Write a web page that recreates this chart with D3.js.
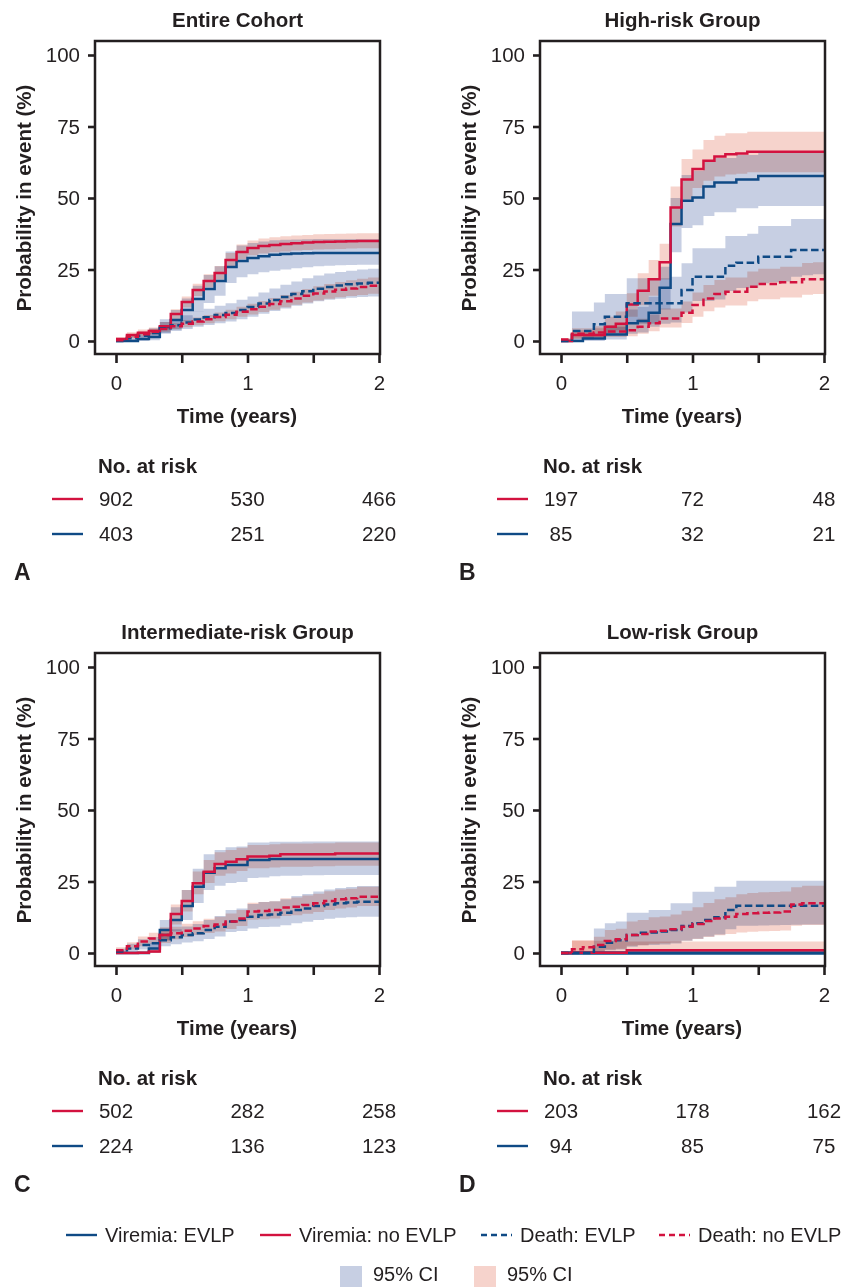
<!DOCTYPE html>
<html>
<head>
<meta charset="utf-8">
<script src="https://cdn.jsdelivr.net/npm/d3@7"></script>
<style>
  html, body { margin: 0; padding: 0; background: #fff; }
  svg { display: block; font-family: "Liberation Sans", Arial, Helvetica, sans-serif; }
</style>
</head>
<body>
<svg id="chart" width="850" height="1287"></svg>
<script>
// ---- data: cumulative incidence (%) by month since transplant ----
const months = [0, 1, 2, 3, 4, 5, 6, 7, 8, 9, 10, 11, 12, 13, 14, 15, 16, 17, 18, 19, 20, 21, 22, 23, 24];

const panelTitles = ["Entire Cohort", "High-risk Group", "Intermediate-risk Group", "Low-risk Group"];
const panelLetters = ["A", "B", "C", "D"];
const yTicks = [0, 25, 50, 75, 100];
const xTicks = [0, 0.5, 1, 1.5, 2];
const xTickLabels = ["0", "", "1", "", "2"];
const riskTimes = [0, 1, 2];

// Entire cohort
const A_virEvlp     = [0, 0, 0.7, 1.4, 4.9, 7.3, 10.8, 14.7, 18.2, 21, 25.9, 28, 29, 29.6, 30.2, 30.4, 30.6, 30.7, 30.8, 30.8, 30.8, 30.8, 30.8, 30.8, 30.8];
const A_virEvlpLo   = [0, 0, 0, 0.3, 2.5, 4, 6.8, 10.2, 13.3, 15.8, 20.3, 22.3, 23.3, 24, 24.6, 25, 25.4, 25.8, 26.1, 26.3, 26.5, 26.6, 26.7, 26.7, 26.7];
const A_virEvlpHi   = [0.4, 0.6, 1.8, 3, 7.6, 10.8, 14.9, 19.3, 23.1, 26.1, 31.3, 33.4, 34.3, 34.8, 35.2, 35.4, 35.5, 35.6, 35.7, 35.7, 35.7, 35.7, 35.7, 35.7, 35.7];
const A_virNo       = [0.7, 2.1, 2.9, 3.5, 5.2, 9.4, 13.6, 17.8, 21, 23.8, 28.3, 31.1, 32.5, 33.2, 33.6, 33.9, 34.2, 34.4, 34.6, 34.7, 34.8, 34.9, 35, 35, 35];
const A_virNoLo     = [0.1, 1.2, 1.9, 2.4, 3.9, 7.8, 11.7, 15.7, 18.8, 21.5, 25.9, 28.6, 30, 30.6, 31, 31.3, 31.6, 31.8, 32, 32.1, 32.2, 32.3, 32.4, 32.4, 32.4];
const A_virNoHi     = [1.3, 3.1, 4, 4.7, 6.6, 11.1, 15.6, 20, 23.3, 26.2, 30.8, 33.7, 35.1, 35.8, 36.3, 36.6, 36.9, 37.1, 37.3, 37.4, 37.5, 37.6, 37.7, 37.7, 37.7];
const A_deathEvlp   = [0, 1, 1.8, 2.8, 4.5, 5.5, 6.5, 7.5, 8.3, 9.1, 9.8, 10.8, 11.9, 13.1, 14.3, 15.4, 16.4, 17.4, 18.3, 18.9, 19.4, 19.8, 20.1, 20.4, 20.6];
const A_deathEvlpLo = [0, 0.3, 0.8, 1.5, 2.8, 3.5, 4.2, 5, 5.6, 6.2, 6.8, 7.6, 8.5, 9.5, 10.5, 11.4, 12.3, 13.1, 13.9, 14.4, 14.8, 15.1, 15.4, 15.6, 15.8];
const A_deathEvlpHi = [0.5, 2, 3.2, 4.5, 6.6, 7.8, 9, 10.3, 11.3, 12.3, 13.2, 14.4, 15.6, 17, 18.4, 19.7, 20.8, 21.9, 22.9, 23.6, 24.1, 24.6, 25, 25.3, 25.5];
const A_deathNo     = [0.3, 1.5, 2.4, 3.2, 4.2, 5.2, 6, 6.8, 7.6, 8.4, 9.2, 10.2, 11.1, 12, 12.9, 13.9, 14.9, 15.8, 16.6, 17.3, 17.9, 18.4, 18.9, 19.3, 19.6];
const A_deathNoLo   = [0, 0.9, 1.6, 2.3, 3.2, 4.1, 4.8, 5.5, 6.2, 6.9, 7.6, 8.5, 9.3, 10.1, 10.9, 11.8, 12.7, 13.5, 14.2, 14.8, 15.3, 15.7, 16.1, 16.5, 16.8];
const A_deathNoHi   = [0.8, 2.2, 3.2, 4.2, 5.3, 6.4, 7.3, 8.2, 9.1, 10, 10.9, 12, 13, 14, 15, 16.1, 17.2, 18.2, 19.1, 19.9, 20.6, 21.2, 21.8, 22.2, 22.5];

// High-risk group
const B_virEvlp     = [0, 0, 0.9, 0.9, 2.3, 2.3, 6.2, 7, 9.9, 18.6, 40.9, 49, 50.2, 54, 55.4, 55.4, 56.5, 56.5, 57.7, 57.7, 57.7, 57.7, 57.7, 57.7, 57.7];
const B_virEvlpLo   = [0, 0, 0, 0, 0.5, 0.5, 2.5, 3, 5, 11, 31, 39.5, 40.5, 43.7, 45, 45, 46.4, 46.4, 47.2, 47.2, 47.2, 47.2, 47.2, 47.2, 47.2];
const B_virEvlpHi   = [0.5, 0.8, 2.5, 2.5, 5, 5, 11, 12, 15.5, 26, 50, 58, 59.5, 63, 64, 64, 65, 65, 66, 66, 66, 66, 66, 66, 66];
const B_virNo       = [0, 2.1, 2.1, 2.1, 5, 6, 12.8, 17.6, 21.6, 27.5, 46.7, 56.5, 60.1, 63, 64.5, 65.3, 65.6, 66.2, 66.2, 66.2, 66.2, 66.2, 66.2, 66.2, 66.2];
const B_virNoLo     = [0, 0.9, 0.9, 0.9, 2.7, 3.8, 8.5, 12.5, 15.8, 21.5, 40, 49.5, 53.5, 56, 57.5, 58.2, 58.5, 59, 59, 59, 59, 59, 59, 59, 59];
const B_virNoHi     = [0.8, 3.8, 3.8, 4.5, 8.5, 10.3, 16.7, 23.7, 28.3, 34, 54, 63.6, 67, 70.3, 71.8, 72.6, 72.6, 73.2, 73.2, 73.2, 73.2, 73.2, 73.2, 73.2, 73.2];
const B_deathEvlp   = [0, 3.5, 3.5, 5.9, 8.5, 8.5, 13.2, 13.2, 13.2, 13.2, 13.2, 17.8, 22.5, 22.5, 22.5, 26.3, 27.4, 27.4, 29.5, 29.5, 29.5, 31.8, 31.8, 31.8, 31.8];
const B_deathEvlpLo = [0, 0.5, 0.5, 1.5, 2.5, 2.5, 6, 6, 6, 6, 6.5, 10, 14, 14, 14.5, 17.5, 18.5, 18.5, 20.2, 20.5, 20.8, 22.5, 23, 23.3, 23.7];
const B_deathEvlpHi = [0, 10.3, 10.3, 13.5, 16.4, 16.4, 21.9, 21.9, 21.9, 21.9, 22.5, 27.2, 32.4, 32.4, 32.4, 36.7, 36.7, 37.5, 40.2, 40.2, 40.2, 42.7, 42.7, 42.7, 42.7];
const B_deathNo     = [0.5, 2.5, 2.5, 3, 3.3, 3.3, 3.8, 5, 6.2, 7.9, 7.9, 9.9, 12.6, 14.9, 16.4, 17.2, 17.2, 19, 19.9, 19.9, 20.5, 20.5, 21.6, 21.6, 21.6];
const B_deathNoLo   = [0, 0.8, 0.8, 1.2, 1.4, 1.4, 1.7, 2.5, 3.4, 4.7, 4.7, 6.3, 8.5, 10.4, 11.7, 12.4, 12.4, 13.9, 14.6, 14.6, 15.2, 15.2, 16.2, 16.4, 16.6];
const B_deathNoHi   = [1, 4.5, 4.5, 5.2, 5.6, 5.6, 6.3, 7.8, 9.3, 11.4, 11.4, 13.8, 17, 19.6, 21.3, 22.2, 22.2, 24.3, 25.3, 25.3, 26, 26, 27.3, 27.5, 27.7];

// Intermediate-risk group
const C_virEvlp     = [0, 0, 0, 1.6, 8, 11.5, 16.4, 23.2, 28.1, 29.6, 30.8, 30.8, 32.5, 32.5, 32.9, 32.9, 32.9, 32.9, 32.9, 32.9, 32.9, 32.9, 32.9, 32.9, 32.9];
const C_virEvlpLo   = [0, 0, 0, 0, 4.5, 7.5, 11.5, 17.5, 22, 23.5, 24.5, 24.8, 26.2, 26.4, 26.8, 27, 27, 27.2, 27.2, 27.3, 27.3, 27.3, 27.3, 27.3, 27.3];
const C_virEvlpHi   = [0.5, 0.5, 0.8, 3.5, 11.5, 16, 22, 29.5, 34.5, 36, 37, 37.2, 38.6, 38.6, 38.9, 38.9, 38.9, 39, 39, 39, 39, 39, 39, 39, 39];
const C_virNo       = [0, 0, 0.1, 0.5, 6.3, 13.6, 18.2, 24.4, 28.4, 31.1, 31.9, 32.8, 33.7, 33.7, 34, 34.5, 34.5, 34.5, 34.5, 34.5, 34.8, 34.8, 34.8, 34.8, 34.8];
const C_virNoLo     = [0, 0, 0, 0, 3.5, 10, 14.5, 20.5, 24.5, 27, 27.8, 28.7, 29.6, 29.6, 29.9, 30.2, 30.2, 30.2, 30.3, 30.3, 30.5, 30.5, 30.5, 30.5, 30.5];
const C_virNoHi     = [0.3, 0.3, 0.6, 1.5, 9, 17, 22, 28.5, 32.5, 35.2, 36, 36.8, 37.8, 37.8, 38, 38.3, 38.3, 38.3, 38.4, 38.4, 38.6, 38.6, 38.6, 38.6, 38.6];
const C_deathEvlp   = [0.5, 1.6, 2.8, 3.4, 4.5, 5.5, 6.3, 6.9, 8, 9.2, 11, 11.5, 12.7, 13.3, 13.5, 14.1, 15, 15.6, 16.4, 17, 17.4, 17.7, 17.9, 17.9, 17.9];
const C_deathEvlpLo = [0, 0.4, 1.2, 1.6, 2.4, 3.1, 3.7, 4.1, 4.9, 5.8, 7.3, 7.7, 8.6, 9.1, 9.2, 9.7, 10.4, 10.9, 11.5, 12, 12.3, 12.5, 12.7, 12.7, 12.7];
const C_deathEvlpHi = [1.5, 3.2, 4.8, 5.6, 7, 8.3, 9.3, 10.1, 11.5, 12.9, 15, 15.6, 17.1, 17.8, 18.1, 18.8, 19.9, 20.6, 21.5, 22.2, 22.7, 23.1, 23.4, 23.4, 23.4];
const C_deathNo     = [1, 2.4, 4, 5.1, 6.3, 6.9, 7.8, 8.6, 9.4, 10, 11, 12.1, 14.5, 14.7, 15, 15.9, 16.2, 16.8, 17.4, 18.2, 18.8, 19.1, 19.7, 19.7, 19.7];
const C_deathNoLo   = [0.2, 1.2, 2.4, 3.3, 4.3, 4.8, 5.6, 6.3, 7, 7.5, 8.4, 9.4, 11.6, 11.8, 12.1, 12.9, 13.2, 13.7, 14.3, 15, 15.6, 15.9, 16.4, 16.4, 16.4];
const C_deathNoHi   = [2, 3.8, 5.8, 7.1, 8.5, 9.2, 10.2, 11.1, 12, 12.7, 13.8, 15, 17.6, 17.8, 18.1, 19.1, 19.4, 20.1, 20.7, 21.6, 22.2, 22.5, 23.2, 23.2, 23.2];

// Low-risk group
const D_virEvlp     = [0, 0, 0, 0, 0, 0, 0, 0, 0, 0, 0, 0, 0, 0, 0, 0, 0, 0, 0, 0, 0, 0, 0, 0, 0];
const D_virEvlpLo   = [0, 0, 0, 0, 0, 0, 0, 0, 0, 0, 0, 0, 0, 0, 0, 0, 0, 0, 0, 0, 0, 0, 0, 0, 0];
const D_virEvlpHi   = [0, 0, 0, 0, 0, 0, 0, 0, 0, 0, 0, 0, 0, 0, 0, 0, 0, 0, 0, 0, 0, 0, 0, 0, 0];
const D_virNo       = [0, 0.1, 0.1, 0.1, 0.1, 0.1, 1, 1, 1, 1, 1, 1, 1, 1, 1, 1, 1, 1, 1, 1, 1, 1, 1, 1, 1];
const D_virNoLo     = [0, 0, 0, 0, 0, 0, 0, 0, 0, 0, 0, 0, 0, 0, 0, 0, 0, 0, 0, 0, 0, 0, 0, 0, 0];
const D_virNoHi     = [0, 4.3, 4.3, 4.3, 4.3, 4.3, 4, 4, 4, 4, 4, 4, 4, 4, 4, 4, 4, 4, 4, 4, 4, 4, 4, 4, 4];
const D_deathEvlp   = [0, 0, 0, 2.2, 3.6, 4.5, 6.3, 7.1, 7.2, 7.5, 8, 9.4, 10.4, 11.5, 12.5, 15, 16.5, 16.5, 16.5, 16.5, 16.5, 16.5, 16.5, 16.5, 16.5];
const D_deathEvlpLo = [0, 0, 0, 0.5, 1, 1.2, 2.2, 2.7, 2.8, 3, 3.3, 4.3, 5, 5.8, 6.5, 8.3, 9.5, 9.5, 9.6, 9.7, 9.8, 9.9, 10, 10, 10];
const D_deathEvlpHi = [0, 0, 0, 8.6, 10.4, 11, 14.1, 14.1, 15, 15, 17.4, 17.4, 21.4, 21.4, 23.2, 23.2, 25.3, 25.3, 25.3, 25.3, 25.3, 25.3, 25.3, 25.3, 25.3];
const D_deathNo     = [0, 1.3, 2, 2.8, 4.2, 4.8, 6.3, 6.6, 7.5, 7.8, 8.3, 9.2, 10.1, 11.2, 12.1, 12.7, 13.6, 13.9, 14.1, 14.2, 14.5, 17, 17.4, 17.4, 17.4];
const D_deathNoLo   = [0, 0, 0.2, 0.5, 1.2, 1.5, 2.5, 2.7, 3.2, 3.4, 3.7, 4.3, 4.9, 5.6, 6.2, 6.6, 7.2, 7.4, 7.6, 7.7, 7.9, 9.5, 9.8, 9.8, 9.8];
const D_deathNoHi   = [0, 4.5, 4.5, 5.7, 8, 8.5, 11, 11.5, 12.5, 12.8, 13.5, 14.8, 16, 17.5, 18.8, 19.5, 20.5, 21, 21.2, 21.3, 21.5, 23, 23.5, 23.5, 23.5];

// Numbers at risk at 0, 1 and 2 years
const riskNoEvlp = [[902, 530, 466], [197, 72, 48], [502, 282, 258], [203, 178, 162]];
const riskEvlp   = [[403, 251, 220], [85, 32, 21], [224, 136, 123], [94, 85, 75]];

// ---- styling ----
const INK = "#231f20";
const BLUE = "#0f4a85";
const RED = "#d3123f";
const BLUE_CI = "#c7cfe3";
const RED_CI = "#f6d3cc";
const FONT = '"Liberation Sans", Arial, Helvetica, sans-serif';

const panels = [
  { virEvlp: [A_virEvlp, A_virEvlpLo, A_virEvlpHi], virNo: [A_virNo, A_virNoLo, A_virNoHi],
    deathEvlp: [A_deathEvlp, A_deathEvlpLo, A_deathEvlpHi], deathNo: [A_deathNo, A_deathNoLo, A_deathNoHi] },
  { virEvlp: [B_virEvlp, B_virEvlpLo, B_virEvlpHi], virNo: [B_virNo, B_virNoLo, B_virNoHi],
    deathEvlp: [B_deathEvlp, B_deathEvlpLo, B_deathEvlpHi], deathNo: [B_deathNo, B_deathNoLo, B_deathNoHi] },
  { virEvlp: [C_virEvlp, C_virEvlpLo, C_virEvlpHi], virNo: [C_virNo, C_virNoLo, C_virNoHi],
    deathEvlp: [C_deathEvlp, C_deathEvlpLo, C_deathEvlpHi], deathNo: [C_deathNo, C_deathNoLo, C_deathNoHi] },
  { virEvlp: [D_virEvlp, D_virEvlpLo, D_virEvlpHi], virNo: [D_virNo, D_virNoLo, D_virNoHi],
    deathEvlp: [D_deathEvlp, D_deathEvlpLo, D_deathEvlpHi], deathNo: [D_deathNo, D_deathNoLo, D_deathNoHi] }
];
const offsets = [[0, 0], [445, 0], [0, 612], [445, 612]];

const svg = d3.select("#chart");
svg.append("rect").attr("width", 850).attr("height", 1287).attr("fill", "#fff");

const x = d3.scaleLinear().domain([0, 2]).range([116, 379]);
const y = d3.scaleLinear().domain([0, 100]).range([341, 55]);
const box = { x0: 95, y0: 41, x1: 380, y1: 354 };

const toRows = (est, lo, hi) => months.map((m, i) => ({ t: m / 12, v: est[i], lo: lo[i], hi: hi[i] }));
const area = d3.area().curve(d3.curveStepAfter).x(d => x(d.t)).y0(d => y(d.lo)).y1(d => y(d.hi));
const line = d3.line().curve(d3.curveStepAfter).x(d => x(d.t)).y(d => y(d.v));

panels.forEach((p, i) => {
  const [ox, oy] = offsets[i];
  const g = svg.append("g").attr("transform", `translate(${ox},${oy})`);

  g.append("text").attr("x", 237.5).attr("y", 27).attr("text-anchor", "middle")
    .attr("font-size", 20.5).attr("font-weight", "bold").attr("fill", INK).text(panelTitles[i]);

  const clipId = "clip" + i;
  g.append("clipPath").attr("id", clipId).append("rect")
    .attr("x", box.x0).attr("y", box.y0).attr("width", box.x1 - box.x0).attr("height", box.y1 - box.y0);

  const plot = g.append("g").attr("clip-path", `url(#${clipId})`);
  const bands = plot.append("g").style("isolation", "isolate");
  const series = [
    { d: p.virEvlp, color: BLUE, ci: BLUE_CI, dash: null },
    { d: p.virNo, color: RED, ci: RED_CI, dash: null },
    { d: p.deathEvlp, color: BLUE, ci: BLUE_CI, dash: "7.5,3.5" },
    { d: p.deathNo, color: RED, ci: RED_CI, dash: "7.5,3.5" }
  ];
  series.forEach(s => {
    bands.append("path").datum(toRows(...s.d)).attr("d", area)
      .attr("fill", s.ci).style("mix-blend-mode", "multiply");
  });
  series.forEach(s => {
    plot.append("path").datum(toRows(...s.d)).attr("d", line)
      .attr("fill", "none").attr("stroke", s.color)
      .attr("stroke-width", (i === 3 && s.d === p.virEvlp) ? 3.4 : 2.5)
      .attr("stroke-dasharray", s.dash);
  });

  g.append("rect").attr("x", box.x0).attr("y", box.y0)
    .attr("width", box.x1 - box.x0).attr("height", box.y1 - box.y0)
    .attr("fill", "none").attr("stroke", INK).attr("stroke-width", 2.5);

  const yAxis = g.append("g").attr("transform", `translate(${box.x0},0)`)
    .call(d3.axisLeft(y).tickValues(yTicks).tickSize(7).tickPadding(8));
  const xAxis = g.append("g").attr("transform", `translate(0,${box.y1})`)
    .call(d3.axisBottom(x).tickValues(xTicks).tickSize(9).tickPadding(12)
      .tickFormat((d, k) => xTickLabels[k]));
  [yAxis, xAxis].forEach(a => {
    a.select(".domain").remove();
    a.selectAll("line").attr("stroke", INK).attr("stroke-width", 2.6);
    a.selectAll("text").attr("fill", INK).attr("font-size", 20.5).attr("font-family", FONT);
  });

  g.append("text").attr("x", 237).attr("y", 423).attr("text-anchor", "middle")
    .attr("font-size", 20.5).attr("font-weight", "bold").attr("fill", INK).text("Time (years)");
  g.append("text").attr("transform", "translate(31,198) rotate(-90)").attr("text-anchor", "middle")
    .attr("font-size", 20.5).attr("font-weight", "bold").attr("fill", INK).text("Probability in event (%)");

  // numbers at risk
  g.append("text").attr("x", 98).attr("y", 473).attr("font-size", 20.5).attr("font-weight", "bold")
    .attr("fill", INK).text("No. at risk");
  [[riskNoEvlp[i], RED, 499], [riskEvlp[i], BLUE, 534]].forEach(([vals, col, yy]) => {
    g.append("line").attr("x1", 52).attr("x2", 83).attr("y1", yy).attr("y2", yy)
      .attr("stroke", col).attr("stroke-width", 2.4);
    g.selectAll(null).data(vals).join("text")
      .attr("x", (d, k) => x(riskTimes[k])).attr("y", yy + 7).attr("text-anchor", "middle")
      .attr("font-size", 20.5).attr("fill", INK).text(d => d);
  });

  g.append("text").attr("x", 14).attr("y", 580).attr("font-size", 23).attr("font-weight", "bold")
    .attr("fill", INK).text(panelLetters[i]);
});

// ---- legend ----
const legendItems = [
  { label: "Viremia: EVLP", color: BLUE, dash: null, x: 66 },
  { label: "Viremia: no EVLP", color: RED, dash: null, x: 260 },
  { label: "Death: EVLP", color: BLUE, dash: "6,4", x: 481 },
  { label: "Death: no EVLP", color: RED, dash: "6,4", x: 659 }
];
const lg = svg.append("g");
legendItems.forEach(it => {
  lg.append("line").attr("x1", it.x).attr("x2", it.x + 31).attr("y1", 1235).attr("y2", 1235)
    .attr("stroke", it.color).attr("stroke-width", 2.4).attr("stroke-dasharray", it.dash);
  lg.append("text").attr("x", it.x + 39).attr("y", 1242).attr("font-size", 20).attr("fill", INK).text(it.label);
});
const ciItems = [{ color: BLUE_CI, x: 340 }, { color: RED_CI, x: 474 }];
ciItems.forEach(it => {
  lg.append("rect").attr("x", it.x).attr("y", 1266).attr("width", 22).attr("height", 21).attr("fill", it.color);
  lg.append("text").attr("x", it.x + 33).attr("y", 1281).attr("font-size", 20).attr("fill", INK).text("95% CI");
});
</script>
</body>
</html>
